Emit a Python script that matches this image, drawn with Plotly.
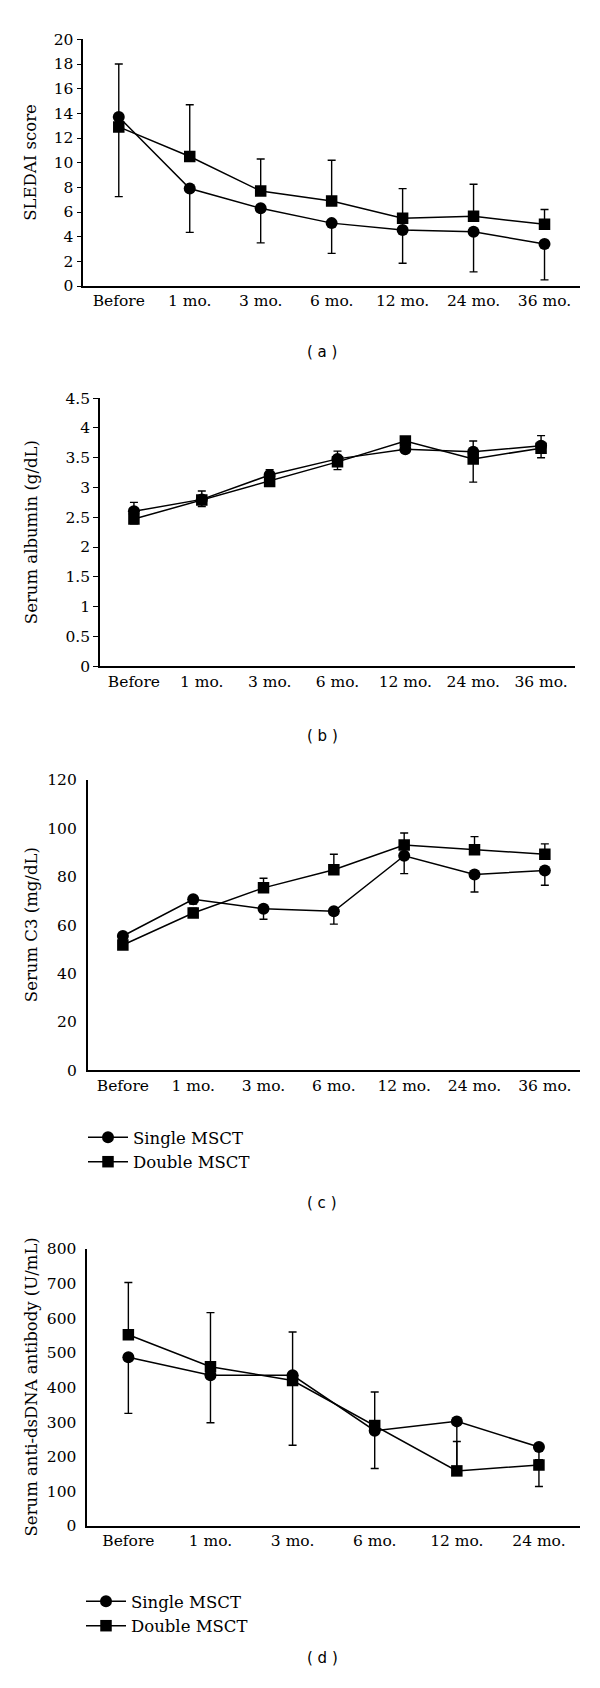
import plotly.graph_objects as go

# ---------------- data ----------------
months7 = ["Before", "1 mo.", "3 mo.", "6 mo.", "12 mo.", "24 mo.", "36 mo."]
months6 = ["Before", "1 mo.", "3 mo.", "6 mo.", "12 mo.", "24 mo."]

# (a) SLEDAI score
sledai_single = [13.7, 7.9, 6.3, 5.1, 4.55, 4.4, 3.4]
sledai_single_err_down = [6.45, 3.55, 2.8, 2.45, 2.7, 3.25, 2.9]
sledai_double = [12.9, 10.5, 7.7, 6.9, 5.5, 5.65, 5.0]
sledai_double_err_up = [5.1, 4.2, 2.6, 3.3, 2.4, 2.6, 1.2]

# (b) Serum albumin (g/dL)
alb_single = [2.60, 2.80, 3.21, 3.48, 3.64, 3.60, 3.70]
alb_single_err_up = [0.15, 0.14, 0.09, 0.13, 0.08, 0.18, 0.17]
alb_double = [2.47, 2.79, 3.10, 3.43, 3.78, 3.48, 3.66]
alb_double_err_down = [0.08, 0.11, 0.05, 0.13, 0.08, 0.39, 0.16]

# (c) Serum C3 (mg/dL)
c3_single = [55.5, 70.7, 66.8, 65.7, 88.7, 80.9, 82.6]
c3_single_err_down = [2, 2, 4.4, 5.3, 7.4, 7.2, 6.1]
c3_double = [51.8, 65.0, 75.4, 82.9, 93.1, 91.2, 89.3]
c3_double_err_up = [2, 2, 4.0, 6.4, 5.0, 5.4, 4.3]

# (d) Serum anti-dsDNA antibody (U/mL)
ds_single = [487, 435, 435, 275, 302, 228]
ds_single_err_down = [162, 137, 202, 109, 140, 114]
ds_double = [552, 460, 420, 290, 159, 176]
ds_double_err_up = [151, 156, 140, 97, 85, 15]

series_names = ["Single MSCT", "Double MSCT"]
y_titles = ["SLEDAI score", "Serum albumin (g/dL)", "Serum C3 (mg/dL)",
            "Serum anti-dsDNA antibody (U/mL)"]
panel_labels = ["( a )", "( b )", "( c )", "( d )"]

# ---------------- layout helpers ----------------
W, H = 600, 1688
SERIF = "DejaVu Serif"
SANS = "DejaVu Sans"


def fx(px):
    return px / W


def fy(py):
    return 1 - py / H


# pixel boxes of the four plot areas: (left, right, top, bottom)
boxes = [
    (83.3, 580, 30.7, 280),
    (100, 575, 393.3, 664.3),
    (87.7, 580, 779.3, 1072.7),
    (87.3, 580, 1253.3, 1533.3),
]
yranges = [[0, 20], [0, 4.5], [0, 120], [0, 800]]
dticks = [2, 0.5, 20, 100]
has_ticks = [True, True, False, False]
label_y = [346.7, 735, 1206.8, 1667]

fig = go.Figure()

panels = [
    (months7, sledai_single, dict(type="data", symmetric=False, array=[0] * 7,
                                  arrayminus=sledai_single_err_down),
     sledai_double, dict(type="data", symmetric=False, array=sledai_double_err_up,
                         arrayminus=[0] * 7)),
    (months7, alb_single, dict(type="data", symmetric=False, array=alb_single_err_up,
                               arrayminus=[0] * 7),
     alb_double, dict(type="data", symmetric=False, array=[0] * 7,
                      arrayminus=alb_double_err_down)),
    (months7, c3_single, dict(type="data", symmetric=False, array=[0] * 7,
                              arrayminus=c3_single_err_down),
     c3_double, dict(type="data", symmetric=False, array=c3_double_err_up,
                     arrayminus=[0] * 7)),
    (months6, ds_single, dict(type="data", symmetric=False, array=[0] * 6,
                              arrayminus=ds_single_err_down),
     ds_double, dict(type="data", symmetric=False, array=ds_double_err_up,
                     arrayminus=[0] * 6)),
]

for i, (cats, ys, es, yd, ed) in enumerate(panels):
    ax = "" if i == 0 else str(i + 1)
    for name, yv, ev, sym, size in [(series_names[0], ys, es, "circle", 12),
                                    (series_names[1], yd, ed, "square", 11.5)]:
        ev = dict(ev, color="black", thickness=1.4, width=4)
        show = i >= 2
        tr = dict(
            x=cats, y=yv, name=name, mode="lines+markers",
            line=dict(color="black", width=1.5),
            marker=dict(symbol=sym, size=size, color="black"),
            error_y=ev, xaxis="x" + ax, yaxis="y" + ax,
            showlegend=show, legendgroup=f"{name}{i}",
        )
        if i == 3:
            tr["legend"] = "legend2"
        fig.add_trace(go.Scatter(**tr))

    l, r, t, b = boxes[i]
    fig.update_layout(**{
        "xaxis" + ax: dict(
            domain=[fx(l), fx(r)], anchor="y" + ax, type="category",
            range=[-0.5, len(cats) - 0.5], showline=True, linecolor="black",
            linewidth=1.6, ticks="", showgrid=False, zeroline=False,
            tickfont=dict(family=SERIF, size=15.5, color="black"),
            fixedrange=True,
        ),
        "yaxis" + ax: dict(
            domain=[fy(b), fy(t)], anchor="x" + ax, range=yranges[i],
            dtick=dticks[i], tick0=0, showline=True, linecolor="black",
            linewidth=1.6, ticks="outside" if has_ticks[i] else "",
            ticklen=5, tickwidth=1.2, tickcolor="black",
            showgrid=False, zeroline=False,
            tickfont=dict(family=SERIF, size=15.5, color="black"),
            ticklabelstandoff=0 if has_ticks[i] else 6,
            fixedrange=True,
        ),
    })

    fig.add_annotation(
        text=y_titles[i], textangle=-90, xref="paper", yref="paper",
        x=fx(31), y=fy((t + b) / 2), xanchor="center", yanchor="middle",
        showarrow=False, font=dict(family=SERIF, size=16.5, color="black"),
    )
    fig.add_annotation(
        text=panel_labels[i], xref="paper", yref="paper",
        x=fx(322), y=fy(label_y[i]), xanchor="center", yanchor="middle",
        showarrow=False, font=dict(family=SANS, size=15, color="black"),
    )

legend_common = dict(
    xanchor="left", yanchor="top", bgcolor="rgba(0,0,0,0)", borderwidth=0,
    font=dict(family=SERIF, size=16.5, color="black"),
    traceorder="grouped", tracegroupgap=0, itemwidth=40,
)

fig.update_layout(
    width=W, height=H,
    margin=dict(l=0, r=0, t=0, b=0),
    paper_bgcolor="white", plot_bgcolor="white",
    legend=dict(legend_common, x=fx(83), y=fy(1123)),
    legend2=dict(legend_common, x=fx(81), y=fy(1592)),
)

fig.write_html("out.html", config={"displayModeBar": False},
               post_script="document.body.style.margin='0px';")
